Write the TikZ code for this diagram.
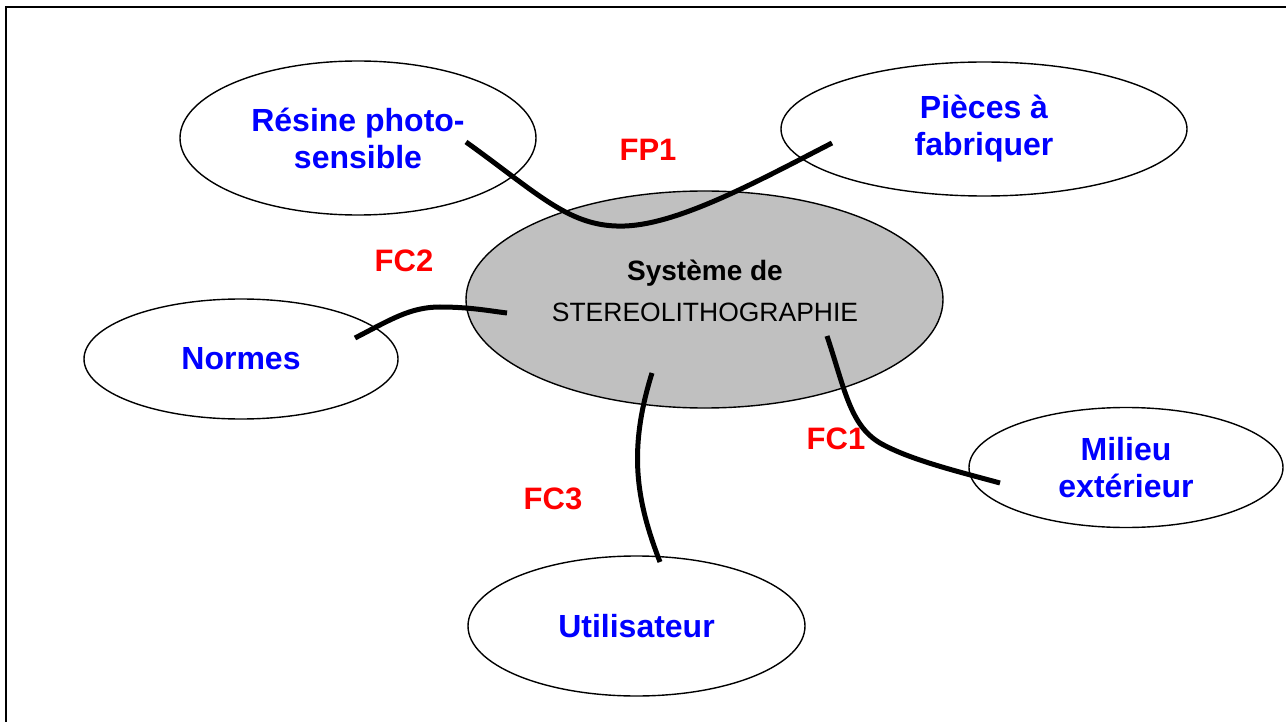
\documentclass[tikz,border=0pt]{standalone}
\usepackage{fontspec}
\setmainfont{Liberation Sans}
\usetikzlibrary{shapes.geometric}
\definecolor{lblue}{RGB}{0,0,255}
\definecolor{lred}{RGB}{255,0,0}
\definecolor{lgray}{RGB}{192,192,192}
\begin{document}
\begin{tikzpicture}[x=1pt,y=-1pt,
  oval/.style={ellipse,draw=black,line width=1.4pt,fill=white,inner sep=0pt,
    text=lblue,align=center,font=\fontsize{32}{37}\selectfont\bfseries},
  flabel/.style={text=lred,font=\fontsize{31}{36}\selectfont\bfseries},
  link/.style={line width=5pt,black,line cap=butt}]
\useasboundingbox (0,0) rectangle (1286,722);
\draw[line width=2.6pt] (6,722) -- (6,7) -- (1286,7);

\node[oval,minimum width=356pt,minimum height=154pt] (res) at (358,138) {Résine photo-\\sensible};
\node[oval,minimum width=406pt,minimum height=134pt] (pie) at (984,129) {Pièces à\\fabriquer};
\node[oval,minimum width=314pt,minimum height=120pt] (nor) at (241,359) {Normes};
\node[oval,minimum width=314pt,minimum height=120pt] (mil) at (1126,467.5) {Milieu\\extérieur};
\node[oval,minimum width=337pt,minimum height=140pt] (uti) at (636.5,626) {Utilisateur};
\node[ellipse,draw=black,line width=1.4pt,fill=lgray,inner sep=0pt,
  minimum width=477pt,minimum height=217pt] (sys) at (704.5,299.5) {};
\node[align=center,inner sep=0pt] (systxt) at (705,291)
  {{\fontsize{28}{34}\selectfont\bfseries Système de}\\[15pt]{\fontsize{26.5}{32}\selectfont STEREOLITHOGRAPHIE}};

\draw[link] ([shift={(108,4)}]res.center) .. controls (540,195) and (570,228) .. (625,226)
  .. controls (680,224) and (760,180) .. ([shift={(-152,14)}]pie.center);
\draw[link] ([shift={(114,-21)}]nor.center) .. controls (390,320) and (410,307) .. (440,307)
  .. controls (470,307) and (490,311) .. ([shift={(-197.5,13.5)}]sys.center);
\draw[link] ([shift={(-52.5,73.5)}]sys.center) .. controls (628,450) and (636,500) .. ([shift={(23.5,-64)}]uti.center);
\draw[link] ([shift={(122.5,36.5)}]sys.center) .. controls (845,390) and (850,425) .. (880,443)
  .. controls (910,460) and (960,472) .. ([shift={(-126,15.5)}]mil.center);

\node[flabel] (fp1) at (648,150) {FP1};
\node[flabel] (fc2) at (404,261) {FC2};
\node[flabel] (fc1) at (836,439) {FC1};
\node[flabel] (fc3) at (553,499) {FC3};
\end{tikzpicture}
\end{document}
